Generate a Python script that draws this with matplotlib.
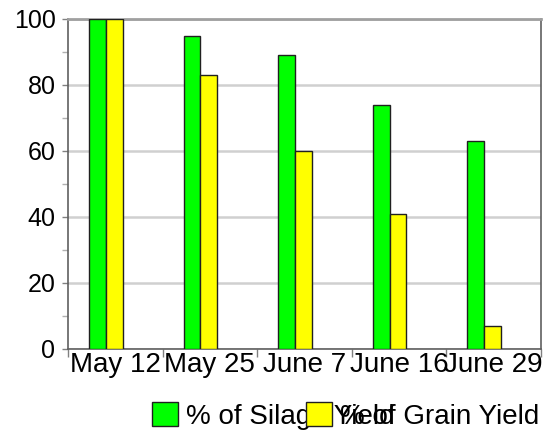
import matplotlib
matplotlib.use("Agg")
import matplotlib.pyplot as plt
import numpy as np
from matplotlib.ticker import MultipleLocator

dates = ["May 12", "May 25", "June 7", "June 16", "June 29"]
silage = [100, 95, 89, 74, 63]
grain = [100, 83, 60, 41, 7]

plt.rcParams['font.family'] = ['Liberation Sans', 'DejaVu Sans']

fig = plt.figure(figsize=(5.59, 4.32), dpi=100)
ax = fig.add_axes([68/559, 1-349/432, 473/559, 330/432])

x = np.arange(len(dates))
w = 0.178
b1 = ax.bar(x + 0.222, silage, w, align='edge', color='#00ff00',
            edgecolor='#202020', linewidth=1.0, label='% of Silage Yield', zorder=3)
b2 = ax.bar(x + 0.222 + w, grain, w, align='edge', color='#ffff00',
            edgecolor='#202020', linewidth=1.0, label='% of Grain Yield', zorder=3)

ax.set_xlim(0, len(dates))
ax.set_ylim(0, 100)
ax.set_xticks(np.arange(len(dates) + 1))
ax.set_xticklabels([])
ax.set_xticks(x + 0.5, minor=True)
ax.set_xticklabels(dates, minor=True, fontsize=20)
ax.tick_params(axis='x', which='minor', length=0, pad=2)
ax.tick_params(axis='x', which='major', length=6, width=1, color='#808080', direction='out')

ax.yaxis.set_major_locator(MultipleLocator(20))
ax.yaxis.set_minor_locator(MultipleLocator(10))
ax.tick_params(axis='y', which='major', labelsize=18, length=4, width=1, color='#808080', pad=5)
ax.tick_params(axis='y', which='minor', length=4, width=1, color='#b0b0b0')

ax.grid(axis='y', color='#d0d0d0', linewidth=1.8, zorder=0)
ax.set_axisbelow(True)
for s in ['left', 'bottom', 'right']:
    ax.spines[s].set_color('#606060')
    ax.spines[s].set_linewidth(1.2)
ax.spines['top'].set_color('#a0a0a0')
ax.spines['top'].set_linewidth(2)

leg = fig.legend(handles=[b1, b2], loc='center left', bbox_to_anchor=(152/559, 1-416/432),
                 ncol=2, frameon=False, fontsize=20, handlelength=0.94, handleheight=0.94,
                 handletextpad=0.3, columnspacing=-3.2, borderaxespad=0, borderpad=0)

fig.savefig("out.png", dpi=100)
